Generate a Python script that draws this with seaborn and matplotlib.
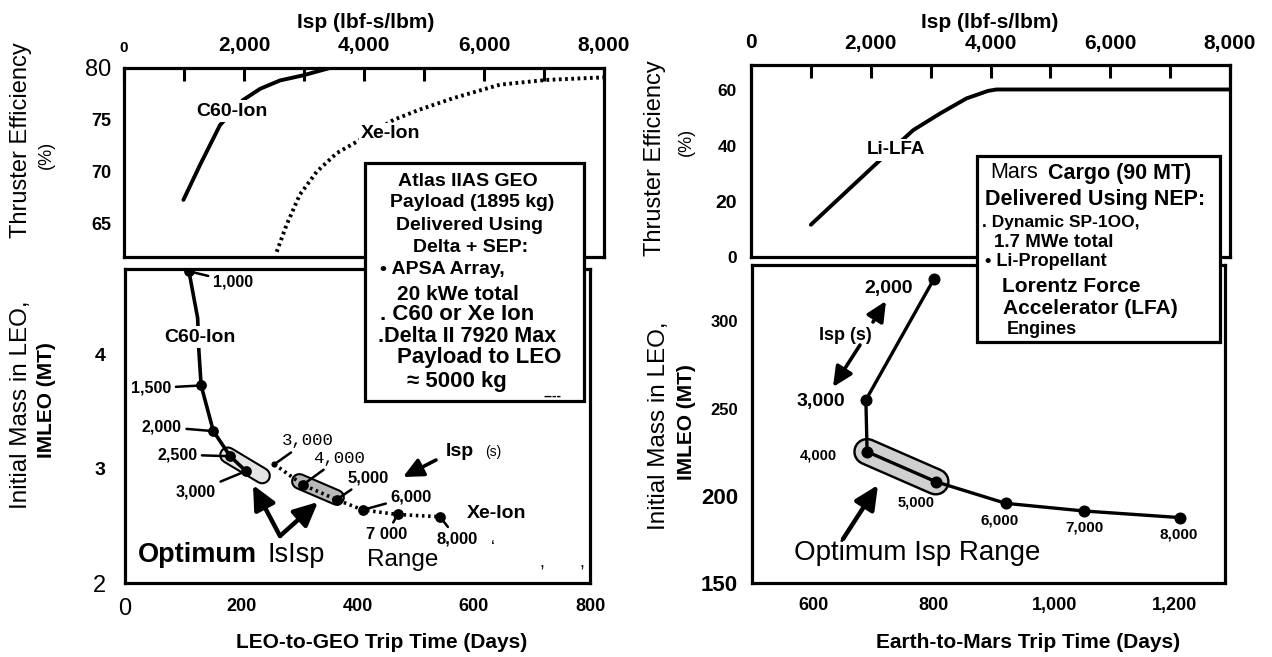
import matplotlib
matplotlib.use('Agg')
import matplotlib.pyplot as plt
import seaborn as sns
from matplotlib.patches import Rectangle

# ---------------- data ----------------
# Top-left: thruster efficiency (%) vs Isp (lbf-s/lbm)
c60_eff_isp = [990, 1270, 1600, 1980, 2270, 2600, 2990, 3430]
c60_eff_pct = [67.3, 70.7, 74.5, 76.9, 78.0, 78.8, 79.3, 80.0]
xe_eff_isp = [2545, 2710, 2930, 3210, 3545, 3880, 4490, 4930, 5490, 6270, 7040, 8000]
xe_eff_pct = [62.3, 64.9, 67.8, 70.0, 71.8, 72.9, 75.0, 76.0, 77.1, 78.4, 78.85, 79.1]

# Bottom-left: IMLEO (MT) vs LEO-to-GEO trip time (days)
c60_isp_labels = ['1,000', '1,500', '2,000', '2,500', '3,000']
c60_days = [110, 131, 152, 181, 208]
c60_imleo = [4.73, 3.73, 3.33, 3.11, 2.98]
c60_path_days = [110, 125, 127, 131, 152, 181, 208]
c60_path_imleo = [4.73, 4.32, 4.04, 3.73, 3.33, 3.11, 2.98]
xe_isp_labels = ['3,000', '4,000', '5,000', '6,000', '7 000', '8,000']
xe_days = [257, 306, 364, 409, 469, 542]
xe_imleo = [3.04, 2.86, 2.73, 2.64, 2.60, 2.58]
opt_c60_days = [177, 236]
opt_c60_imleo = [3.12, 2.94]
opt_xe_days = [300, 364]
opt_xe_imleo = [2.89, 2.75]

# Top-right: Li-LFA efficiency (%) vs Isp
lfa_eff_isp = [1000, 2100, 2710, 3160, 3600, 3960, 4100, 8000]
lfa_eff_pct = [11.6, 33.7, 45.6, 51.6, 57.0, 59.7, 60.2, 60.2]

# Bottom-right: IMLEO (MT) vs Earth-to-Mars trip time (days)
nep_isp_labels = ['2,000', '3,000', '4,000', '5,000', '6,000', '7,000', '8,000']
nep_days = [800, 687, 689, 803, 919, 1049, 1209]
nep_imleo = [324.4, 255.0, 225.3, 208.1, 195.7, 191.3, 187.5]

# tick labels
isp_ticks = [0, 1000, 2000, 3000, 4000, 5000, 6000, 7000, 8000]
isp_ticklabels = ['0', '', '2,000', '', '4,000', '', '6,000', '', '8,000']
leo_day_ticks = [0, 200, 400, 600, 800]
mars_day_ticks = [600, 700, 800, 900, 1000, 1100, 1200]
mars_day_labels = ['600', '', '800', '', '1,000', '', '1,200']

# ---------------- style ----------------
sns.set_theme(style='white')
plt.rcParams['font.family'] = ['Liberation Sans', 'DejaVu Sans']
plt.rcParams['axes.edgecolor'] = 'black'
plt.rcParams['text.color'] = 'black'
plt.rcParams['xtick.color'] = 'black'
plt.rcParams['ytick.color'] = 'black'
K = 'black'

W, H = 1272, 657
fig = plt.figure(figsize=(W / 100, H / 100), dpi=100)
fig.patch.set_facecolor('white')


def rect(l, t, r, b):
    return [l / W, 1 - b / H, (r - l) / W, (b - t) / H]


def fp(x, y):
    return (x, H - y)


def ftext(x, y, s, **kw):
    kw.setdefault('ha', 'center')
    kw.setdefault('va', 'center')
    kw.setdefault('zorder', 12)
    return fig.text(x / W, 1 - y / H, s, **kw)


ax1 = fig.add_axes(rect(124, 68, 604, 257))
ax2 = fig.add_axes(rect(125, 269, 590, 583))
ax3 = fig.add_axes(rect(751, 65, 1230, 257))
ax4 = fig.add_axes(rect(752, 265, 1225, 583))

for ax in (ax1, ax2, ax3, ax4):
    for sp in ax.spines.values():
        sp.set_linewidth(2.3)
        sp.set_color(K)
    ax.set_facecolor('white')
    ax.grid(False)


def style_labels(labels, spec):
    for t in labels:
        s = t.get_text()
        if s in spec:
            size, weight = spec[s]
            t.set_fontsize(size)
            t.set_fontweight(weight)


# ---------------- top-left ----------------
sns.lineplot(x=c60_eff_isp, y=c60_eff_pct, ax=ax1, color=K, lw=2.8,
             sort=False, estimator=None)
sns.lineplot(x=xe_eff_isp, y=xe_eff_pct, ax=ax1, color=K, lw=2.8,
             sort=False, estimator=None, linestyle=(0, (0.7, 0.9)))
ax1.set_xlim(0, 8000)
ax1.set_ylim(61.8, 80)
ax1.set_xticks(isp_ticks, isp_ticklabels)
ax1.set_yticks([65, 70, 75, 80], ['65', '70', '75', '80'])
ax1.tick_params(axis='x', direction='in', length=9, width=2.2, top=True,
                bottom=False, labeltop=True, labelbottom=False, pad=9)
ax1.tick_params(axis='y', direction='in', length=9, width=2.2, pad=9)
style_labels(ax1.get_xticklabels(), {'0': (11, 'bold'), '2,000': (15, 'bold'),
                                     '4,000': (15, 'bold'), '6,000': (15, 'bold'),
                                     '8,000': (15, 'bold')})
style_labels(ax1.get_yticklabels(), {'80': (17, 'normal'), '75': (13, 'bold'),
                                     '70': (13, 'bold'), '65': (13, 'bold')})
ax1.set_xlabel('')
ax1.set_ylabel('')
wb = dict(fc='white', ec='none', pad=1.5)
ftext(232, 111, 'C60-Ion', fontsize=14, fontweight='bold', bbox=wb, zorder=3)
ftext(391, 134, 'Xe-Ion', fontsize=14, fontweight='bold', bbox=wb, zorder=3)

# ---------------- bottom-left ----------------
ax2.plot(opt_c60_days, opt_c60_imleo, color=K, lw=12.5, solid_capstyle='round', zorder=2)
ax2.plot(opt_c60_days, opt_c60_imleo, color='#e4e4e4', lw=9.5, solid_capstyle='round', zorder=2)
ax2.plot(opt_xe_days, opt_xe_imleo, color=K, lw=12, solid_capstyle='round', zorder=2)
ax2.plot(opt_xe_days, opt_xe_imleo, color='#b8b8b8', lw=9, solid_capstyle='round', zorder=2)
sns.lineplot(x=c60_path_days, y=c60_path_imleo, ax=ax2, color=K, lw=2.6,
             sort=False, estimator=None, zorder=3)
sns.lineplot(x=xe_days, y=xe_imleo, ax=ax2, color=K, lw=2.6, sort=False,
             estimator=None, linestyle=(0, (0.7, 1.0)), zorder=3)
sns.scatterplot(x=c60_days, y=c60_imleo, ax=ax2, color=K, s=60, linewidth=0, zorder=4)
sns.scatterplot(x=xe_days[1:], y=xe_imleo[1:], ax=ax2, color=K, s=60, linewidth=0, zorder=4)
sns.scatterplot(x=xe_days[:1], y=xe_imleo[:1], ax=ax2, color=K, s=20, linewidth=0, zorder=4)
ax2.set_xlim(0, 800)
ax2.set_ylim(2, 4.75)
ax2.set_xticks(leo_day_ticks, [str(v) for v in leo_day_ticks])
ax2.set_xticks([100, 200], minor=True)
ax2.xaxis.remove_overlapping_locs = False
ax2.set_yticks([2, 2.5, 3, 3.5, 4, 4.5], ['2', '', '3', '', '4', ''])
ax2.tick_params(axis='x', which='major', direction='in', length=0, pad=11)
ax2.tick_params(axis='x', which='minor', direction='in', length=10, width=2.2)
ax2.tick_params(axis='y', direction='in', length=9, width=2.2, pad=14)
style_labels(ax2.get_xticklabels(), {'0': (17, 'normal'), '200': (13, 'bold'),
                                     '400': (13, 'bold'), '600': (13, 'bold'),
                                     '800': (13, 'bold')})
style_labels(ax2.get_yticklabels(), {'2': (17, 'normal'), '3': (14, 'bold'),
                                     '4': (14, 'bold')})
ax2.set_xlabel('')
ax2.set_ylabel('')

c60_offsets = [(44, 10.6), (-50, 2.7), (-51.5, -4.3), (-53, -1.7), (-50, 20.7)]
for lbl, d, m, (dx, dy) in zip(c60_isp_labels, c60_days, c60_imleo, c60_offsets):
    ax2.annotate(lbl, xy=(d, m), xytext=(dx, -dy), textcoords='offset pixels',
                 ha='center', va='center', fontsize=11.5, fontweight='bold', zorder=6,
                 arrowprops=dict(arrowstyle='-', lw=1.8, color=K, shrinkA=1, shrinkB=0))
xe_offsets = [(33, -23.3), (36.7, -26.7), (31.7, -21.7), (48.3, -13.3), (-11, 20), (17, 22)]
xe_fonts = [('Liberation Mono', 'normal', 12.5), ('Liberation Mono', 'normal', 12.5),
            ('Liberation Sans', 'bold', 12), ('Liberation Sans', 'bold', 12),
            ('Liberation Sans', 'bold', 12), ('Liberation Sans', 'bold', 12)]
for lbl, d, m, (dx, dy), (fam, fw, fs) in zip(xe_isp_labels, xe_days, xe_imleo,
                                              xe_offsets, xe_fonts):
    ax2.annotate(lbl, xy=(d, m), xytext=(dx, -dy), textcoords='offset pixels',
                 ha='center', va='center', fontsize=fs, fontweight=fw,
                 family=[fam, 'DejaVu Sans'], zorder=6,
                 arrowprops=dict(arrowstyle='-', lw=1.8, color=K, shrinkA=1, shrinkB=0))

ftext(200, 337, 'C60-Ion', fontsize=14, fontweight='bold', bbox=wb, zorder=5)
ftext(497, 514, 'Xe-Ion', fontsize=14, fontweight='bold')
ftext(460, 451, 'Isp', fontsize=14, fontweight='bold')
ftext(493, 452, '(s)', fontsize=10)
ftext(197, 555, 'Optimum', fontsize=19.5, fontweight='bold')
ftext(296, 555, 'IsIsp', fontsize=19.5)
ftext(403, 560, 'Range', fontsize=17.5)
ftext(493, 548, '\u2018', fontsize=13)
ftext(542, 563, ',', fontsize=13)
ftext(582, 563, ',', fontsize=13)

arrow_kw = dict(arrowstyle='-|>,head_length=0.8,head_width=0.38', lw=3.2, color=K,
                mutation_scale=18, shrinkA=0, shrinkB=0)
for tip in [(253, 485), (318, 502)]:
    ax2.annotate('', xy=fp(*tip), xycoords='figure pixels', xytext=fp(280, 536),
                 textcoords='figure pixels', arrowprops=arrow_kw)
ax2.annotate('', xy=fp(403, 477), xycoords='figure pixels', xytext=fp(436, 460),
             textcoords='figure pixels',
             arrowprops=dict(arrow_kw, lw=2.6, mutation_scale=15))

# ---------------- top-right ----------------
sns.lineplot(x=lfa_eff_isp, y=lfa_eff_pct, ax=ax3, color=K, lw=2.8,
             sort=False, estimator=None)
ax3.set_xlim(0, 8000)
ax3.set_ylim(0, 69)
ax3.set_xticks(isp_ticks, isp_ticklabels)
ax3.set_yticks([0, 20, 40, 60], ['0', '20', '40', '60'])
ax3.tick_params(axis='x', direction='in', length=9, width=2.2, top=True,
                bottom=False, labeltop=True, labelbottom=False, pad=9)
ax3.tick_params(axis='y', direction='in', length=9, width=2.2, pad=10)
style_labels(ax3.get_xticklabels(), {'0': (15, 'bold'), '2,000': (15, 'bold'),
                                     '4,000': (15, 'bold'), '6,000': (15, 'bold'),
                                     '8,000': (15, 'bold')})
style_labels(ax3.get_yticklabels(), {'0': (12.5, 'bold'), '20': (14, 'bold'),
                                     '40': (12.5, 'bold'), '60': (12.5, 'bold')})
ax3.set_xlabel('')
ax3.set_ylabel('')
ftext(896, 150, 'Li-LFA', fontsize=13.5, fontweight='bold', bbox=wb, zorder=3)

# ---------------- bottom-right ----------------
ax4.plot(nep_days[2:4], nep_imleo[2:4], color=K, lw=20, solid_capstyle='round', zorder=2)
ax4.plot(nep_days[2:4], nep_imleo[2:4], color='#d0d0d0', lw=16.5, solid_capstyle='round', zorder=2)
sns.lineplot(x=nep_days, y=nep_imleo, ax=ax4, color=K, lw=2.4, sort=False,
             estimator=None, zorder=3)
sns.scatterplot(x=nep_days, y=nep_imleo, ax=ax4, color=K, s=75, linewidth=0, zorder=4)
ax4.set_xlim(498, 1283)
ax4.set_ylim(150, 332.4)
ax4.set_xticks(mars_day_ticks, mars_day_labels)
ax4.set_yticks([150, 175, 200, 225, 250, 275, 300, 325],
               ['150', '', '200', '', '250', '', '300', ''])
ax4.tick_params(axis='x', direction='in', length=11, width=2.2, pad=10)
ax4.tick_params(axis='y', direction='in', length=9, width=2.2, pad=10)
style_labels(ax4.get_xticklabels(), {s: (13, 'bold') for s in mars_day_labels if s})
style_labels(ax4.get_yticklabels(), {'150': (16, 'bold'), '200': (16, 'bold'),
                                     '250': (12, 'bold'), '300': (12, 'bold')})
ax4.set_xlabel('')
ax4.set_ylabel('')

nep_offsets = [(-45.8, 9.3), (-45.2, 1.7), (-48.4, 3.3), (-20, 20.6), (-6, 16.7),
               (0, 16.7), (-1.7, 16.6)]
nep_sizes = [14, 14, 10.5, 10.5, 11, 11, 11]
for lbl, d, m, (dx, dy), fs in zip(nep_isp_labels, nep_days, nep_imleo, nep_offsets, nep_sizes):
    ax4.annotate(lbl, xy=(d, m), xytext=(dx, -dy), textcoords='offset pixels',
                 ha='center', va='center', fontsize=fs, fontweight='bold', zorder=6)

ftext(845, 335, 'Isp (s)', fontsize=13, fontweight='bold')
ftext(917, 553, 'Optimum Isp Range', fontsize=20)
ax4.annotate('', xy=fp(833, 387), xycoords='figure pixels', xytext=fp(860, 345),
             textcoords='figure pixels', arrowprops=dict(arrow_kw, lw=2.6, mutation_scale=15))
ax4.annotate('', xy=fp(886, 301), xycoords='figure pixels', xytext=fp(873, 322),
             textcoords='figure pixels', arrowprops=dict(arrow_kw, lw=2.6, mutation_scale=15))
ax4.annotate('', xy=fp(878, 485), xycoords='figure pixels', xytext=fp(843, 539),
             textcoords='figure pixels', arrowprops=arrow_kw)

# ---------------- figure-level labels ----------------
ftext(366, 22, 'Isp (lbf-s/lbm)', fontsize=15, fontweight='bold')
ftext(990, 22, 'Isp (lbf-s/lbm)', fontsize=15, fontweight='bold')
ftext(382, 643, 'LEO-to-GEO Trip Time (Days)', fontsize=15, fontweight='bold')
ftext(1028, 642, 'Earth-to-Mars Trip Time (Days)', fontsize=15, fontweight='bold')

ftext(21, 140, 'Thruster Efficiency', fontsize=17, rotation=90)
ftext(46, 155, '(%)', fontsize=13, rotation=90)
ftext(21, 405, 'Initial Mass in LEO,', fontsize=17.5, rotation=90)
ftext(46, 400, 'IMLEO (MT)', fontsize=15, fontweight='bold', rotation=90)
ftext(655, 158, 'Thruster Efficiency', fontsize=17, rotation=90)
ftext(686, 142, '(%)', fontsize=13, rotation=90)
ftext(659, 426, 'Initial Mass in LEO,', fontsize=17.5, rotation=90)
ftext(686, 422, 'IMLEO (MT)', fontsize=15, fontweight='bold', rotation=90)

# ---------------- text boxes ----------------
def fbox(l, t, r, b):
    fig.add_artist(Rectangle((l / W, 1 - b / H), (r - l) / W, (b - t) / H,
                             transform=fig.transFigure, fc='white', ec=K,
                             lw=2.3, zorder=10))


fbox(365, 163, 584, 401)
ftext(468, 181, 'Atlas IIAS GEO', fontsize=14, fontweight='bold')
ftext(472, 203, 'Payload (1895 kg)', fontsize=14, fontweight='bold')
ftext(469, 225, 'Delivered Using', fontsize=14, fontweight='bold')
ftext(471, 248, 'Delta + SEP:', fontsize=14, fontweight='bold')
ftext(380, 270, '\u2022 APSA Array,', fontsize=14, fontweight='bold', ha='left')
ftext(397, 294, '20 kWe total', fontsize=15, fontweight='bold', ha='left')
ftext(380, 314, '. C60 or Xe Ion', fontsize=16, fontweight='bold', ha='left')
ftext(378, 337, '.Delta II 7920 Max', fontsize=15.5, fontweight='bold', ha='left')
ftext(397, 358, 'Payload to LEO', fontsize=16, fontweight='bold', ha='left')
ftext(407, 381, '\u2248 5000 kg', fontsize=16, fontweight='bold', ha='left')
ftext(553, 396, '----', fontsize=10, fontweight='bold')

fbox(977, 156, 1220, 342)
ftext(990, 173, 'Mars', fontsize=15.5, ha='left')
ftext(1048, 173, 'Cargo (90 MT)', fontsize=15.5, fontweight='bold', ha='left')
ftext(985, 200, 'Delivered Using NEP:', fontsize=15.5, fontweight='bold', ha='left')
ftext(982, 223, '. Dynamic SP-1OO,', fontsize=12.5, fontweight='bold', ha='left')
ftext(994, 243, '1.7 MWe total', fontsize=13.5, fontweight='bold', ha='left')
ftext(985, 262, '\u2022 Li-Propellant', fontsize=13, fontweight='bold', ha='left')
ftext(1002, 287, 'Lorentz Force', fontsize=15, fontweight='bold', ha='left')
ftext(1003, 308, 'Accelerator (LFA)', fontsize=15, fontweight='bold', ha='left')
ftext(1007, 329, 'Engines', fontsize=13, fontweight='bold', ha='left')

fig.savefig('out.png', dpi=100, facecolor='white')
